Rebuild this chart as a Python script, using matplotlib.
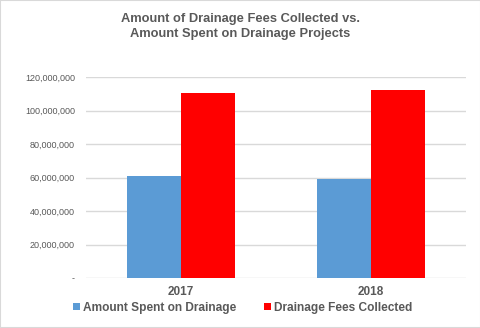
import numpy as np
import matplotlib.pyplot as plt
from matplotlib.patches import Rectangle
from matplotlib.ticker import FuncFormatter

years = ['2017', '2018']
spent = [60.8e6, 59.0e6]
collected = [110.3e6, 112.1e6]
series_names = ['Amount Spent on Drainage', 'Drainage Fees Collected']
colors = ['#5b9bd5', '#ff0000']

plt.rcParams['font.family'] = ['Liberation Sans', 'DejaVu Sans']
txt = '#595959'

fig = plt.figure(figsize=(4.81, 3.28), dpi=100)
fig.patches.append(Rectangle((0, 0), 1, 1, transform=fig.transFigure,
                             fill=False, edgecolor='#d9d9d9', linewidth=1.5))
ax = fig.add_axes([86 / 481, 1 - 278 / 328, 380 / 481, 201 / 328])

x = np.arange(len(years))
w = 0.284
ax.bar(x - w / 2, spent, width=w, color=colors[0], label=series_names[0], zorder=3)
ax.bar(x + w / 2, collected, width=w, color=colors[1], label=series_names[1], zorder=3)

ax.set_xlim(-0.5, 1.5)
ax.set_ylim(0, 120e6)
ax.set_yticks(np.arange(0, 120e6 + 1, 20e6))
ax.yaxis.set_major_formatter(FuncFormatter(lambda v, p: '-' if v == 0 else f'{v:,.0f}'))
ax.grid(axis='y', color='#d9d9d9', linewidth=1, zorder=0)
for s in ax.spines.values():
    s.set_visible(False)
ax.tick_params(axis='y', length=0, labelsize=6.5, labelcolor=txt, pad=8)
ax.tick_params(axis='x', length=0, labelsize=8.5, labelcolor=txt, pad=6)
ax.set_xticks(x)
ax.set_xticklabels(years, fontweight='bold')

fig.text(0.5, 1 - 26.5 / 328, 'Amount of Drainage Fees Collected vs.\nAmount Spent on Drainage Projects',
         ha='center', va='center', fontsize=9.3, fontweight='bold', color=txt, linespacing=1.3)

leg = fig.legend(loc='center', bbox_to_anchor=(0.505, 1 - 308 / 328), ncol=2, frameon=False,
                 handlelength=0.55, handleheight=0.55, handletextpad=0.3, columnspacing=2.3,
                 prop={'size': 8.6, 'weight': 'bold'})
for t in leg.get_texts():
    t.set_color(txt)

fig.savefig('out.png', dpi=100)
